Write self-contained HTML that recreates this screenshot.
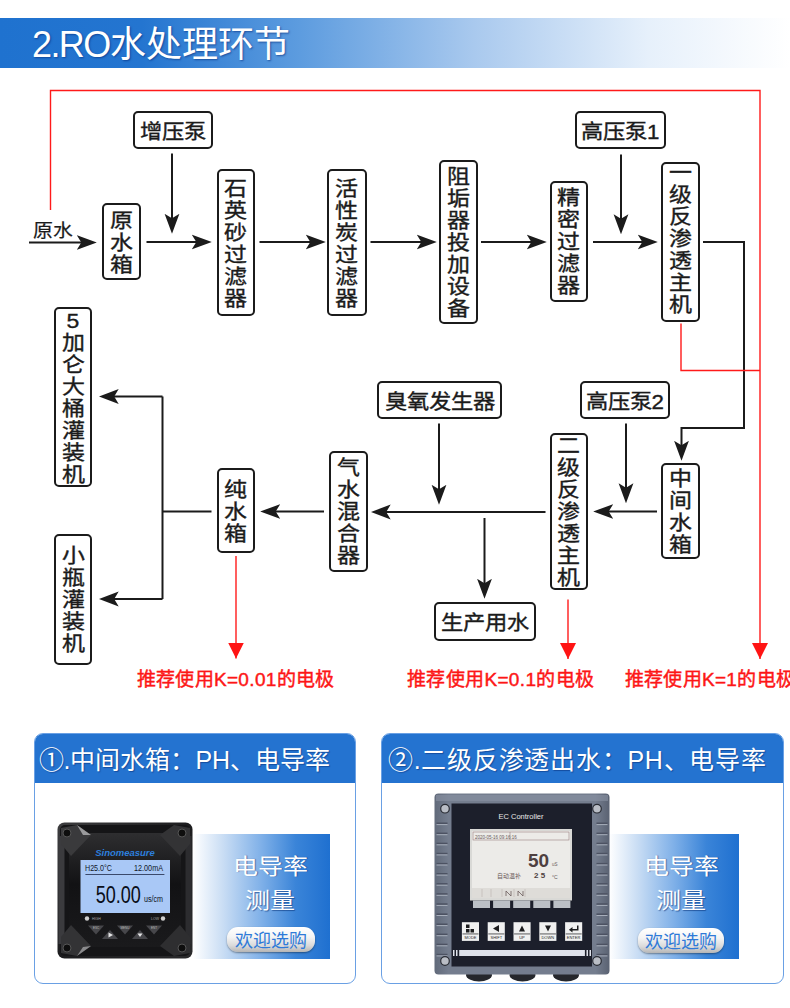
<!DOCTYPE html>
<html lang="zh-CN"><head><meta charset="utf-8">
<style>
*{margin:0;padding:0;box-sizing:border-box}
html,body{width:790px;height:1008px;overflow:hidden;background:#fff;font-family:"Liberation Sans",sans-serif}
.abs{position:absolute}
#hdr{position:absolute;left:0;top:18px;width:790px;height:50px;background:linear-gradient(90deg,#1f72cf 0%,#2475d0 18%,#5d9cdf 38%,#a9c9ee 60%,#e6f0fb 82%,#fff 100%)}
#hdr .t{position:absolute;left:32px;top:5.5px;font-size:36px;line-height:42px;color:#fff;text-shadow:1px 1px 2px rgba(0,40,120,.6);white-space:nowrap}
.bx{position:absolute;border:2px solid #1b1b1b;border-radius:5px;background:#fff;color:#1b1b1b;font-size:23px;line-height:22px;-webkit-text-stroke:.4px #1b1b1b;display:flex;align-items:center;justify-content:center;text-align:center}
.v{flex-direction:column}
.h{font-style:normal;display:block;transform:translateY(2.5px) scaleY(.92);font-size:22.3px}
.v span{display:block;width:24px;height:22px;font-size:23px;transform:translateY(.8px) scaleY(.9)}
.red{position:absolute;color:#fd1616;font-size:19px;line-height:20px;white-space:nowrap;letter-spacing:.35px;-webkit-text-stroke:.45px #fd1616}
</style></head><body>
<div id="hdr"><div class="t"><span style="letter-spacing:-1.6px">2.RO</span>水处理环节</div></div>

<svg class="abs" style="left:0;top:0" width="790" height="720" viewBox="0 0 790 720">
<defs>
<marker id="ah" viewBox="0 0 20 16" refX="11.2" refY="8" markerWidth="20" markerHeight="16" markerUnits="userSpaceOnUse" orient="auto">
<path d="M0,0.6 L20,8 L0,15.4 L4.5,8 Z" fill="#1b1b1b"/></marker>
<marker id="rh" viewBox="0 0 16 16" refX="16" refY="8" markerWidth="16" markerHeight="16" markerUnits="userSpaceOnUse" orient="auto">
<path d="M0,0 L16,8 L0,16 Z" fill="#ff1414"/></marker>
</defs>
<g fill="none" stroke="#1b1b1b" stroke-width="2">
<path d="M29,242.5 H88" marker-end="url(#ah)"/>
<path d="M146.5,242 H203" marker-end="url(#ah)"/>
<path d="M172,153.5 V225" marker-end="url(#ah)"/>
<path d="M259.5,242 H317" marker-end="url(#ah)"/>
<path d="M370.5,242 H428" marker-end="url(#ah)"/>
<path d="M481,242 H538" marker-end="url(#ah)"/>
<path d="M593,242 H649" marker-end="url(#ah)"/>
<path d="M621,154.5 V225.5" marker-end="url(#ah)"/>
<path d="M703,242 H744 V428 H681.5 V452" marker-end="url(#ah)"/>
<path d="M657,511.5 H602" marker-end="url(#ah)"/>
<path d="M626,423.5 V494.5" marker-end="url(#ah)"/>
<path d="M545.5,512 H379.5" marker-end="url(#ah)"/>
<path d="M439,423.5 V496" marker-end="url(#ah)"/>
<path d="M484.5,518 V590" marker-end="url(#ah)"/>
<path d="M324,511.5 H269" marker-end="url(#ah)"/>
<path d="M211.5,511.5 H162.5"/>
<path d="M162.5,396.5 V599"/>
<path d="M162.5,396.5 H107.5" marker-end="url(#ah)"/>
<path d="M162.5,599 H107.5" marker-end="url(#ah)"/>
</g>
<g fill="none" stroke="#ff1a1a" stroke-width="1.4">
<path d="M50.5,210 V90.5 H760 V659" marker-end="url(#rh)"/>
<path d="M681,323.5 V370.5 H760"/>
<path d="M236,556 V658.5" marker-end="url(#rh)"/>
<path d="M568,599.5 V659" marker-end="url(#rh)"/>
</g>
</svg>

<div class="abs" style="left:33px;top:218px;font-size:20px;line-height:24px;color:#1b1b1b;-webkit-text-stroke:.2px #1b1b1b;transform:scaleY(.93)">原水</div>

<div class="bx" style="left:133px;top:110.5px;width:79.5px;height:38.5px"><i class="h">增压泵</i></div>
<div class="bx v" style="left:101.5px;top:203px;width:39.5px;height:77px"><span>原</span><span>水</span><span>箱</span></div>
<div class="bx v" style="left:216.5px;top:169px;width:38.5px;height:147px"><span>石</span><span>英</span><span>砂</span><span>过</span><span>滤</span><span>器</span></div>
<div class="bx v" style="left:327px;top:169px;width:39.5px;height:147px"><span>活</span><span>性</span><span>炭</span><span>过</span><span>滤</span><span>器</span></div>
<div class="bx v" style="left:438.5px;top:160px;width:39.5px;height:164px"><span>阻</span><span>垢</span><span>器</span><span>投</span><span>加</span><span>设</span><span>备</span></div>
<div class="bx v" style="left:549.5px;top:181px;width:38px;height:120.5px"><span>精</span><span>密</span><span>过</span><span>滤</span><span>器</span></div>
<div class="bx" style="left:575px;top:110.5px;width:90.5px;height:38.5px"><i class="h">高压泵1</i></div>
<div class="bx v" style="left:661px;top:161.5px;width:38.5px;height:160px;padding-bottom:7.5px"><span>一</span><span>级</span><span>反</span><span>渗</span><span>透</span><span>主</span><span>机</span></div>
<div class="bx v" style="left:661px;top:463px;width:38.5px;height:96px"><span>中</span><span>间</span><span>水</span><span>箱</span></div>
<div class="bx" style="left:580px;top:380.5px;width:89.5px;height:38.5px"><i class="h">高压泵2</i></div>
<div class="bx v" style="left:549.5px;top:432.5px;width:38px;height:157px;padding-bottom:1px"><span>二</span><span>级</span><span>反</span><span>渗</span><span>透</span><span>主</span><span>机</span></div>
<div class="bx" style="left:377px;top:380.5px;width:125px;height:38.5px"><i class="h">臭氧发生器</i></div>
<div class="bx" style="left:433.5px;top:601.5px;width:102px;height:39px"><i class="h">生产用水</i></div>
<div class="bx v" style="left:329px;top:451px;width:38.5px;height:120.5px"><span>气</span><span>水</span><span>混</span><span>合</span><span>器</span></div>
<div class="bx v" style="left:216.5px;top:468px;width:38.5px;height:85px"><span>纯</span><span>水</span><span>箱</span></div>
<div class="bx v" style="left:54px;top:306.5px;width:38px;height:180px"><span>5</span><span>加</span><span>仑</span><span>大</span><span>桶</span><span>灌</span><span>装</span><span>机</span></div>
<div class="bx v" style="left:54px;top:533.5px;width:38px;height:131px"><span>小</span><span>瓶</span><span>灌</span><span>装</span><span>机</span></div>

<div class="red" style="left:136.5px;top:669.5px">推荐使用K=0.01的电极</div>
<div class="red" style="left:407px;top:669.5px">推荐使用K=0.1的电极</div>
<div class="red" style="left:624.5px;top:669.5px">推荐使用K=1的电极</div>


<style>
.card{position:absolute;top:733px;height:250.5px;border:1.5px solid #6aa0e4;border-radius:9px;background:#fff;overflow:hidden}
.card .ch{position:absolute;left:-1.5px;top:-1.5px;right:-1.5px;height:50px;background:#2473d0;color:#fff;font-size:25px;line-height:30px;white-space:nowrap;text-shadow:1px 1px 1px rgba(0,30,100,.45)}
.panel{position:absolute;top:834px;height:124.5px;background:linear-gradient(90deg,#fff 0%,#c9ddf4 22%,#7fb0e8 50%,#3a84d8 75%,#1f70d0 100%)}
.pt{position:absolute;width:120px;text-align:center;color:#fff;font-size:25px;line-height:39.1px;transform:scaleY(.875);transform-origin:50% 0;text-shadow:1px 1px 1px rgba(0,40,110,.55)}
.btn{position:absolute;height:25px;border-radius:11px;background:linear-gradient(180deg,#ffffff 0%,#f4f4f4 40%,#d9d9d9 75%,#b5b5b5 100%);box-shadow:0 1px 2px rgba(0,0,0,.4);color:#2f7ad8;font-size:18px;line-height:28.5px;text-align:center;white-space:nowrap}
</style>
<div class="card" style="left:34px;width:322px"><div class="ch"><span style="position:absolute;left:5px;top:12px">①.中间水箱：PH、电导率</span></div></div>
<div class="card" style="left:381.3px;width:403.2px"><div class="ch"><span style="position:absolute;left:7.2px;top:12px;letter-spacing:.75px">②.二级反渗透出水：PH、电导率</span></div></div>
<div class="panel" style="left:193px;width:137px"></div>
<svg class="abs" style="left:57px;top:822px" width="137" height="138" viewBox="0 0 137 138">
<defs>
<linearGradient id="d1b" x1="0" y1="0" x2="1" y2="1"><stop offset="0" stop-color="#3c3c3e"/><stop offset=".5" stop-color="#1c1c1e"/><stop offset="1" stop-color="#2a2a2c"/></linearGradient>
<linearGradient id="d1f" x1="0" y1="0" x2="0" y2="1"><stop offset="0" stop-color="#2e2e30"/><stop offset=".45" stop-color="#121214"/><stop offset="1" stop-color="#1a1a1c"/></linearGradient>
</defs>
<rect x="0.5" y="0.5" width="135" height="136" rx="7" fill="url(#d1b)"/>
<rect x="3" y="3" width="130" height="131" rx="5" fill="#151517"/><rect x="1.5" y="14" width="6" height="108" fill="#3b3b3e"/><rect x="128.5" y="14" width="6" height="108" fill="#2c2c2f"/>
<path d="M12,11 H124 V125 H12 Z" fill="url(#d1f)"/>
<!-- corner facets -->
<path d="M4,6 L20,3 L34,13 L14,34 L4,22 Z" fill="#3a3a3c"/>
<path d="M20,3 L34,13 L26,13 Z" fill="#9a9a9c"/>
<path d="M133,6 L117,3 L103,13 L123,34 L133,22 Z" fill="#333335"/>
<path d="M4,131 L20,134 L34,124 L14,103 L4,115 Z" fill="#333335"/>
<path d="M20,134 L34,124 L26,125 Z" fill="#8a8a8c"/>
<path d="M133,131 L117,134 L103,124 L123,103 L133,115 Z" fill="#2e2e30"/>
<circle cx="10" cy="11" r="4" fill="#0e0e0e" stroke="#555" stroke-width="1"/>
<circle cx="125" cy="11" r="4" fill="#0e0e0e" stroke="#555" stroke-width="1"/>
<circle cx="10" cy="126" r="4" fill="#0e0e0e" stroke="#555" stroke-width="1"/>
<circle cx="125" cy="126" r="4" fill="#0e0e0e" stroke="#555" stroke-width="1"/>
<text x="68" y="34" text-anchor="middle" font-family="Liberation Sans" font-size="9.5" font-weight="bold" font-style="italic" fill="#2d7fdc">Sinomeasure</text>
<rect x="23.5" y="38" width="89.5" height="53" fill="#a9c8f6"/>
<text x="28" y="49.2" font-family="Liberation Sans" font-size="8.5" fill="#101828" textLength="27" lengthAdjust="spacingAndGlyphs">H25.0°C</text>
<text x="77" y="49.2" font-family="Liberation Sans" font-size="8.5" fill="#101828" textLength="29" lengthAdjust="spacingAndGlyphs">12.00mA</text>
<rect x="28.4" y="52" width="79" height="0.9" fill="#2e3a5c"/>
<text x="38.7" y="80.8" font-family="Liberation Sans" font-size="24" fill="#0a0f1a" textLength="45.2" lengthAdjust="spacingAndGlyphs">50.00</text>
<text x="87" y="80" font-family="Liberation Sans" font-size="8.5" fill="#0a0f1a" textLength="19" lengthAdjust="spacingAndGlyphs">us/cm</text>
<circle cx="30" cy="96.5" r="2.2" fill="#cfcfcf"/><circle cx="106" cy="96.5" r="2.2" fill="#cfcfcf"/>
<text x="35" y="98" font-family="Liberation Sans" font-size="3.5" fill="#aaa">HIGH</text>
<text x="94" y="98" font-family="Liberation Sans" font-size="3.5" fill="#aaa">LOW</text>
<path d="M31,103.5 H47 L39,112.5 Z" fill="#47474b"/>
<path d="M60,103.5 H76 L68,112.5 Z" fill="#47474b"/>
<path d="M89,103.5 H105 L97,112.5 Z" fill="#47474b"/>
<path d="M45,117 H61 L53,108 Z" fill="#47474b"/>
<path d="M75,117 H91 L83,108 Z" fill="#47474b"/>
<path d="M51.5,110.5 L56,113 L51.5,115.5 Z" fill="#e6e6e6"/>
<path d="M80.5,111.5 L85.5,111.5 L83,115 Z" fill="#e6e6e6"/>
<g font-family="Liberation Sans" font-size="3" fill="#bbb" text-anchor="middle"><text x="39" y="107">ESC</text><text x="68" y="107">MENU</text><text x="97" y="107">ENT</text></g>
</svg>

<div class="panel" style="left:609px;width:130px"></div>
<svg class="abs" style="left:434px;top:793px" width="177" height="190" viewBox="0 0 177 190">
<defs>
<linearGradient id="d2g" x1="0" y1="0" x2="1" y2="0"><stop offset="0" stop-color="#616a7a"/><stop offset=".08" stop-color="#747d8e"/><stop offset=".92" stop-color="#747d8e"/><stop offset="1" stop-color="#5a6272"/></linearGradient>
</defs>
<ellipse cx="45" cy="182" rx="13" ry="6.5" fill="#25272c"/>
<ellipse cx="88.5" cy="182" rx="13" ry="6.5" fill="#25272c"/>
<ellipse cx="132" cy="182" rx="13" ry="6.5" fill="#25272c"/>
<rect x="0.5" y="0.5" width="175" height="181" rx="4" fill="url(#d2g)"/>
<rect x="2" y="2" width="172" height="6" fill="#8a93a3" opacity=".6"/>
<rect x="17.5" y="10.5" width="140.5" height="163" fill="#1c1f2b"/>
<rect x="2.5" y="29.5" width="11" height="1.6" fill="#4c5262"/><rect x="2.5" y="31.1" width="11" height="1" fill="#a7aebb"/><rect x="2.5" y="39.6" width="11" height="1.6" fill="#4c5262"/><rect x="2.5" y="41.2" width="11" height="1" fill="#a7aebb"/><rect x="2.5" y="49.7" width="11" height="1.6" fill="#4c5262"/><rect x="2.5" y="51.3" width="11" height="1" fill="#a7aebb"/><rect x="2.5" y="59.8" width="11" height="1.6" fill="#4c5262"/><rect x="2.5" y="61.4" width="11" height="1" fill="#a7aebb"/><rect x="2.5" y="69.9" width="11" height="1.6" fill="#4c5262"/><rect x="2.5" y="71.5" width="11" height="1" fill="#a7aebb"/><rect x="2.5" y="80.0" width="11" height="1.6" fill="#4c5262"/><rect x="2.5" y="81.6" width="11" height="1" fill="#a7aebb"/><rect x="2.5" y="90.1" width="11" height="1.6" fill="#4c5262"/><rect x="2.5" y="91.7" width="11" height="1" fill="#a7aebb"/><rect x="2.5" y="100.2" width="11" height="1.6" fill="#4c5262"/><rect x="2.5" y="101.8" width="11" height="1" fill="#a7aebb"/><rect x="2.5" y="110.3" width="11" height="1.6" fill="#4c5262"/><rect x="2.5" y="111.9" width="11" height="1" fill="#a7aebb"/><rect x="2.5" y="120.4" width="11" height="1.6" fill="#4c5262"/><rect x="2.5" y="122.0" width="11" height="1" fill="#a7aebb"/><rect x="2.5" y="130.5" width="11" height="1.6" fill="#4c5262"/><rect x="2.5" y="132.1" width="11" height="1" fill="#a7aebb"/><rect x="2.5" y="140.6" width="11" height="1.6" fill="#4c5262"/><rect x="2.5" y="142.2" width="11" height="1" fill="#a7aebb"/><rect x="2.5" y="150.7" width="11" height="1.6" fill="#4c5262"/><rect x="2.5" y="152.3" width="11" height="1" fill="#a7aebb"/><rect x="2.5" y="160.8" width="11" height="1.6" fill="#4c5262"/><rect x="2.5" y="162.4" width="11" height="1" fill="#a7aebb"/><rect x="162.5" y="29.5" width="11" height="1.6" fill="#4c5262"/><rect x="162.5" y="31.1" width="11" height="1" fill="#a7aebb"/><rect x="162.5" y="39.6" width="11" height="1.6" fill="#4c5262"/><rect x="162.5" y="41.2" width="11" height="1" fill="#a7aebb"/><rect x="162.5" y="49.7" width="11" height="1.6" fill="#4c5262"/><rect x="162.5" y="51.3" width="11" height="1" fill="#a7aebb"/><rect x="162.5" y="59.8" width="11" height="1.6" fill="#4c5262"/><rect x="162.5" y="61.4" width="11" height="1" fill="#a7aebb"/><rect x="162.5" y="69.9" width="11" height="1.6" fill="#4c5262"/><rect x="162.5" y="71.5" width="11" height="1" fill="#a7aebb"/><rect x="162.5" y="80.0" width="11" height="1.6" fill="#4c5262"/><rect x="162.5" y="81.6" width="11" height="1" fill="#a7aebb"/><rect x="162.5" y="90.1" width="11" height="1.6" fill="#4c5262"/><rect x="162.5" y="91.7" width="11" height="1" fill="#a7aebb"/><rect x="162.5" y="100.2" width="11" height="1.6" fill="#4c5262"/><rect x="162.5" y="101.8" width="11" height="1" fill="#a7aebb"/><rect x="162.5" y="110.3" width="11" height="1.6" fill="#4c5262"/><rect x="162.5" y="111.9" width="11" height="1" fill="#a7aebb"/><rect x="162.5" y="120.4" width="11" height="1.6" fill="#4c5262"/><rect x="162.5" y="122.0" width="11" height="1" fill="#a7aebb"/><rect x="162.5" y="130.5" width="11" height="1.6" fill="#4c5262"/><rect x="162.5" y="132.1" width="11" height="1" fill="#a7aebb"/><rect x="162.5" y="140.6" width="11" height="1.6" fill="#4c5262"/><rect x="162.5" y="142.2" width="11" height="1" fill="#a7aebb"/><rect x="162.5" y="150.7" width="11" height="1.6" fill="#4c5262"/><rect x="162.5" y="152.3" width="11" height="1" fill="#a7aebb"/><rect x="162.5" y="160.8" width="11" height="1.6" fill="#4c5262"/><rect x="162.5" y="162.4" width="11" height="1" fill="#a7aebb"/>
<circle cx="11" cy="15.7" r="4.3" fill="#b9bdc5" stroke="#2a2d35" stroke-width="1.2"/>
<circle cx="163" cy="15.7" r="4.3" fill="#b9bdc5" stroke="#2a2d35" stroke-width="1.2"/>
<circle cx="11" cy="168" r="4.3" fill="#b9bdc5" stroke="#2a2d35" stroke-width="1.2"/>
<circle cx="163" cy="168" r="4.3" fill="#b9bdc5" stroke="#2a2d35" stroke-width="1.2"/>
<text x="87" y="26" text-anchor="middle" font-family="Liberation Sans" font-size="7.5" fill="#e8e8e8">EC Controller</text>
<rect x="36" y="36" width="102" height="71.5" fill="#d9d9d6"/>
<rect x="38" y="38" width="98" height="67" fill="#ecebe8"/>
<rect x="39" y="39" width="96" height="8" fill="none" stroke="#9b7f7f" stroke-width=".6"/>
<line x1="76" y1="39" x2="76" y2="47" stroke="#9b7f7f" stroke-width=".6"/>
<text x="41" y="45.5" font-family="Liberation Sans" font-size="4.5" fill="#6b5b5b">2020-05-16 09:16:16</text>
<text x="94" y="74" font-family="Liberation Sans" font-size="19" font-weight="bold" fill="#4e4040">50</text>
<text x="118" y="73" font-family="Liberation Sans" font-size="4.5" fill="#6b5b5b">uS</text>
<text x="63" y="85" font-family="Liberation Sans" font-size="6" fill="#6b5b5b">自动温补</text>
<text x="100" y="85" font-family="Liberation Sans" font-size="8" font-weight="bold" fill="#4e4040">2 5</text>
<text x="118" y="86" font-family="Liberation Sans" font-size="5" fill="#6b5b5b">°C</text>
<rect x="38" y="95" width="98" height="10" fill="#dedcd8"/>
<path d="M48,96 V104 M57,96 V104 M68,96 V104 M80,96 V104 M91,96 V104" stroke="#b9b3b0" stroke-width=".6"/>
<path d="M72,103 V98 L77,103 V98 M84,103 V98 L89,103 V98" stroke="#6b5b5b" stroke-width=".8" fill="none"/>
<g fill="#bcc0c6"><rect x="39" y="107.5" width="17" height="7.5"/><rect x="59.1" y="107.5" width="17" height="7.5"/><rect x="79.2" y="107.5" width="17" height="7.5"/><rect x="99.3" y="107.5" width="17" height="7.5"/><rect x="119.4" y="107.5" width="17" height="7.5"/></g>
<g fill="#f0f0f0"><rect x="27.9" y="129.2" width="17.1" height="18.7"/><rect x="53.7" y="129.2" width="17.1" height="18.7"/><rect x="79.5" y="129.2" width="17.1" height="18.7"/><rect x="105.3" y="129.2" width="17.1" height="18.7"/><rect x="131.1" y="129.2" width="17.1" height="18.7"/></g>
<g fill="#1c1c1e">
<rect x="32" y="131.5" width="3.5" height="3.5"/><rect x="32" y="136" width="3.5" height="3.5"/><rect x="36.5" y="136" width="3.5" height="3.5"/>
<path d="M59,135.5 L65,132 V139 Z"/><path d="M85,138.5 L88,132.5 L91,138.5 Z"/><path d="M111,132.5 H117 L114,138.5 Z"/><path d="M135.5,136 H143 V132.5 H144.5 V137.5 H135.5 Z M135,136.8 L138.5,134 V139.5 Z"/>
<rect x="28.5" y="140.6" width="16" height=".7"/><rect x="54.3" y="140.6" width="16" height=".7"/><rect x="80.1" y="140.6" width="16" height=".7"/><rect x="105.9" y="140.6" width="16" height=".7"/><rect x="131.7" y="140.6" width="16" height=".7"/>
</g>
<g font-family="Liberation Sans" font-size="4" fill="#222" text-anchor="middle"><text x="36.5" y="146">MODE</text><text x="62.3" y="146">SHIFT</text><text x="88" y="146">UP</text><text x="113.8" y="146">DOWN</text><text x="139.6" y="146">ENTER</text></g>
<rect x="25.2" y="157" width="125.7" height="6" fill="#dfe3ec"/>
<rect x="19" y="157" width="1.5" height="6" fill="#dfe3ec"/><rect x="22" y="157" width="1.5" height="6" fill="#dfe3ec"/><rect x="152.5" y="157" width="1.5" height="6" fill="#dfe3ec"/><rect x="155.5" y="157" width="1.5" height="6" fill="#dfe3ec"/>
</svg>

<div class="pt" style="left:210px;top:849px">电导率<br>测量</div>
<div class="btn" style="left:226.5px;top:927px;width:88px">欢迎选购</div>
<div class="pt" style="left:621px;top:849px">电导率<br>测量</div>
<div class="btn" style="left:638px;top:927.5px;width:86px">欢迎选购</div>

</body></html>
